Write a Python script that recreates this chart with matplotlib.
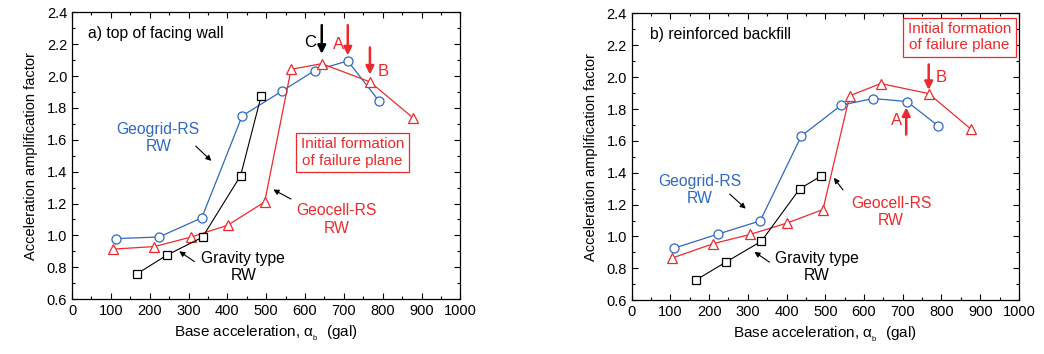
import matplotlib
matplotlib.use("Agg")
import matplotlib.pyplot as plt
from matplotlib.ticker import MultipleLocator

plt.rcParams['font.family'] = ['Liberation Sans', 'DejaVu Sans']

BLUE = '#2f68c0'
RED = '#ec2a2d'

# panel a) top of facing wall
a_grid_x = [113, 224, 334, 438, 540, 625, 710, 790]
a_grid_y = [0.98, 0.99, 1.11, 1.75, 1.905, 2.035, 2.095, 1.845]
a_cell_x = [106, 212, 307, 401, 496, 564, 643, 767, 877]
a_cell_y = [0.914, 0.93, 0.99, 1.064, 1.21, 2.043, 2.078, 1.964, 1.74]
a_grav_x = [166, 244, 336, 434, 487]
a_grav_y = [0.757, 0.876, 0.989, 1.375, 1.876]

# panel b) reinforced backfill
b_grid_x = [110, 223, 332, 438, 541, 624, 711, 791]
b_grid_y = [0.927, 1.015, 1.098, 1.63, 1.824, 1.866, 1.847, 1.695]
b_cell_x = [105, 211, 306, 401, 494, 563, 643, 767, 877]
b_cell_y = [0.865, 0.955, 1.013, 1.084, 1.169, 1.883, 1.96, 1.897, 1.672]
b_grav_x = [165, 244, 335, 434, 488]
b_grav_y = [0.725, 0.84, 0.97, 1.299, 1.378]

fig = plt.figure(figsize=(10.44, 3.54), dpi=100)
ax1 = fig.add_axes([0.069, 0.155, 0.372, 0.81])
ax2 = fig.add_axes([0.605, 0.152, 0.371, 0.81])

thin = dict(arrowstyle='-|>', color='black', lw=0.8, mutation_scale=8)
FS = 11.3


def draw_series(ax, gx, gy, cx, cy, vx, vy):
    ax.plot(gx, gy, '-o', color=BLUE, mfc='white', mec=BLUE, ms=6.5, lw=0.9, mew=0.9, zorder=3)
    ax.plot(cx, cy, '-^', color=RED, mfc='white', mec=RED, ms=7.5, lw=0.9, mew=0.9, zorder=3)
    ax.plot(vx, vy, '-s', color='black', mfc='white', mec='black', ms=5.5, lw=0.8, mew=0.9, zorder=3)


def style(ax):
    ax.set_xlim(0, 1000)
    ax.set_ylim(0.6, 2.4)
    ax.xaxis.set_major_locator(MultipleLocator(100))
    ax.xaxis.set_minor_locator(MultipleLocator(50))
    ax.yaxis.set_major_locator(MultipleLocator(0.2))
    ax.yaxis.set_minor_locator(MultipleLocator(0.1))
    ax.yaxis.set_major_formatter(plt.FormatStrFormatter('%.1f'))
    ax.tick_params(which='both', direction='in', top=True, right=True, labelsize=10.5, width=0.8)
    ax.tick_params(which='major', length=4.5)
    ax.tick_params(which='minor', length=2.5)
    for s in ax.spines.values():
        s.set_linewidth(0.9)
    ax.set_xlabel('Base acceleration, \u03b1$_{_\\mathregular{b}}$  (gal)', fontsize=11)
    ax.set_ylabel('Acceleration amplification factor', fontsize=10.5, labelpad=6)


def big_arrow(ax, x, y0, y1, color):
    ax.annotate('', xy=(x, y1), xytext=(x, y0),
                arrowprops=dict(arrowstyle='-|>', color=color, lw=1.8, mutation_scale=12,
                                shrinkA=0, shrinkB=0))


# panel a
draw_series(ax1, a_grid_x, a_grid_y, a_cell_x, a_cell_y, a_grav_x, a_grav_y)
style(ax1)
ax1.text(40, 2.27, 'a) top of facing wall', fontsize=FS, va='center')
big_arrow(ax1, 643, 2.32, 2.14, 'black')
ax1.text(612, 2.21, 'C', fontsize=12, ha='center', va='center')
big_arrow(ax1, 710, 2.32, 2.13, RED)
ax1.text(685, 2.2, 'A', fontsize=12, ha='center', va='center', color=RED)
big_arrow(ax1, 767, 2.18, 2.01, RED)
ax1.text(802, 2.03, 'B', fontsize=12, ha='center', va='center', color=RED)
ax1.text(722, 1.52, 'Initial formation\nof failure plane', fontsize=11, color=RED,
         ha='center', va='center', linespacing=1.2,
         bbox=dict(boxstyle='square,pad=0.3', fc='white', ec=RED, lw=0.9))
ax1.text(222, 1.61, 'Geogrid-RS\nRW', fontsize=FS, color=BLUE, ha='center', va='center')
ax1.annotate('', xy=(364, 1.456), xytext=(313, 1.573), arrowprops=thin)
ax1.text(682, 1.10, 'Geocell-RS\nRW', fontsize=FS, color=RED, ha='center', va='center')
ax1.annotate('', xy=(512, 1.296), xytext=(570, 1.22), arrowprops=thin)
ax1.text(441, 0.80, 'Gravity type\nRW', fontsize=FS, color='black', ha='center', va='center')
ax1.annotate('', xy=(270, 0.91), xytext=(321, 0.826), arrowprops=thin)

# panel b
draw_series(ax2, b_grid_x, b_grid_y, b_cell_x, b_cell_y, b_grav_x, b_grav_y)
style(ax2)
ax2.text(48, 2.27, 'b) reinforced backfill', fontsize=FS, va='center')
ax2.text(846, 2.25, 'Initial formation\nof failure plane', fontsize=11, color=RED,
         ha='center', va='center', linespacing=1.2,
         bbox=dict(boxstyle='square,pad=0.3', fc='white', ec=RED, lw=0.9))
big_arrow(ax2, 767, 2.08, 1.92, RED)
ax2.text(800, 2.0, 'B', fontsize=12, ha='center', va='center', color=RED)
big_arrow(ax2, 709, 1.64, 1.81, RED)
ax2.text(683, 1.725, 'A', fontsize=12, ha='center', va='center', color=RED)
ax2.text(177, 1.29, 'Geogrid-RS\nRW', fontsize=FS, color=BLUE, ha='center', va='center')
ax2.annotate('', xy=(300, 1.163), xytext=(248, 1.278), arrowprops=thin)
ax2.text(670, 1.153, 'Geocell-RS\nRW', fontsize=FS, color=RED, ha='center', va='center')
ax2.annotate('', xy=(518, 1.382), xytext=(550, 1.278), arrowprops=thin)
ax2.text(479, 0.808, 'Gravity type\nRW', fontsize=FS, color='black', ha='center', va='center')
ax2.annotate('', xy=(311, 0.913), xytext=(362, 0.829), arrowprops=thin)

fig.savefig('out.png', dpi=100)
